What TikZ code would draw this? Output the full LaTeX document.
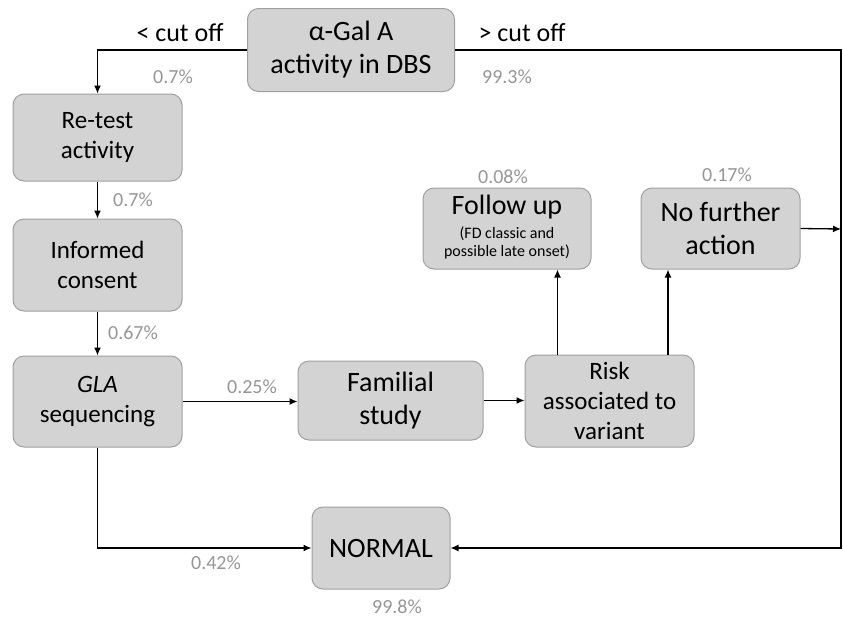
\documentclass[tikz,border=0pt]{standalone}
\usepackage{fontspec}
\setmainfont{Carlito}
\usepackage{tikz}
\usetikzlibrary{arrows.meta}
\definecolor{boxfill}{RGB}{211,211,211}
\definecolor{boxline}{RGB}{160,160,160}
\definecolor{pctgray}{RGB}{150,150,150}
\tikzset{
	stage/.style={draw=boxline, line width=1pt, fill=boxfill, rounded corners=11pt, align=center, inner sep=0pt, font=\fontsize{25}{30}\selectfont},
	bigstage/.style={stage, font=\fontsize{28}{33}\selectfont},
	pct/.style={text=pctgray, inner sep=0pt, font=\fontsize{20}{24}\selectfont},
	cutlbl/.style={inner sep=0pt, font=\fontsize{26}{30}\selectfont},
	flow/.style={line width=1.3pt, -{Latex[length=8pt,width=7pt]}}
}

\begin{document}
\begin{tikzpicture}[x=1pt, y=-1pt]
			\useasboundingbox (0,0) rectangle (843,619);
			% boxes
			\node[bigstage, minimum width=207pt, minimum height=83pt] (gal) at (351,50) {α-Gal A\\activity in DBS};
			\node[stage, minimum width=169pt, minimum height=87pt] (retest) at (97.5,137.5) {Re-test\\activity};
			\node[stage, minimum width=169pt, minimum height=92pt] (consent) at (97.5,265) {Informed\\consent};
			\node[stage, minimum width=169pt, minimum height=91pt] (gla) at (97.5,401.5) {\textit{GLA}\\sequencing};
			\node[bigstage, minimum width=185pt, minimum height=79pt] (familial) at (390.5,400.5) {Familial\\study};
			\node[stage, minimum width=169pt, minimum height=92pt] (risk) at (609.5,401) {Risk\\associated to\\variant};
			\node[bigstage, minimum width=168pt, minimum height=81pt] (followup) at (507,228.5) {Follow up\\{\fontsize{16}{18}\selectfont\begin{tabular}{@{}c@{}}(FD classic and\\possible late onset)\end{tabular}}};
			\node[bigstage, minimum width=159pt, minimum height=81pt] (nofurther) at (720.5,228.5) {No further\\action};
			\node[bigstage, minimum width=138pt, minimum height=82pt] (normal) at (381,548) {NORMAL};
			\coordinate (rtop) at (841,50);
			\coordinate (rmid) at (841,229);
			% labels
			\node[cutlbl] (lcut) at (180,33) {< cut off};
			\node[cutlbl] (rcut) at (522,33) {> cut off};
			\node[pct] (p1) at (173,77) {0.7\%};
			\node[pct] (p2) at (507,77) {99.3\%};
			\node[pct] (p3) at (133,200) {0.7\%};
			\node[pct] (p4) at (133,333) {0.67\%};
			\node[pct] (p5) at (252,387) {0.25\%};
			\node[pct] (p6) at (503,177) {0.08\%};
			\node[pct] (p7) at (727,175) {0.17\%};
			\node[pct] (p8) at (216,563) {0.42\%};
			\node[pct] (p9) at (397,607) {99.8\%};
			% connectors
			\draw[flow] (gal.west) -| (retest.north);
			\draw[flow] (gal.east) -- (rtop) |- (normal.east);
			\draw[flow] (gla.south) |- (normal.west);
			\path[flow]
			(retest) edge (consent)
			(consent) edge (gla)
			(gla.east) edge (gla.east -| familial.west)
			(familial.east) edge (familial.east -| risk.west)
			(nofurther.east) edge (rmid)
			([xshift=-52pt]risk.north) edge ([xshift=-52pt]risk.north |- followup.south)
			([xshift=58.5pt]risk.north) edge ([xshift=58.5pt]risk.north |- nofurther.south);
		\end{tikzpicture}
\end{document}
